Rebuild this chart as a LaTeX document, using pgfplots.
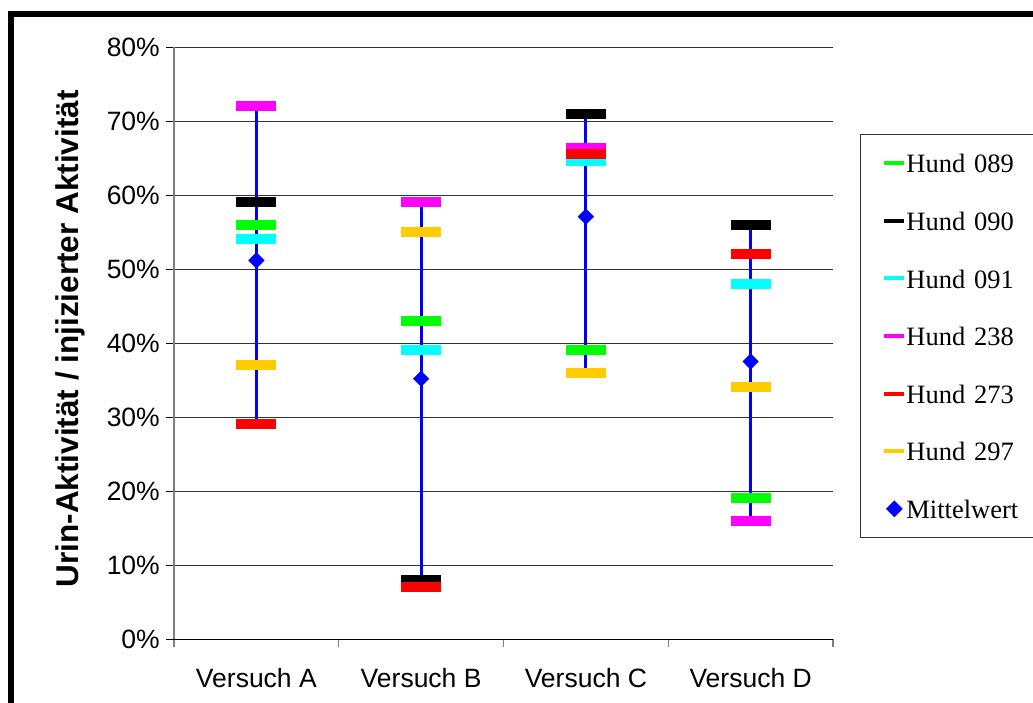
\documentclass[border=0pt]{standalone}
\usepackage{pgfplots}
\pgfplotsset{compat=1.18}
\usepackage{pgfplotstable}
\usepackage{fontspec}
\setmainfont{Liberation Sans}
\newfontfamily\legendfont{Liberation Serif}

\definecolor{hgreen}{RGB}{0,255,0}
\definecolor{hcyan}{RGB}{0,255,255}
\definecolor{hmag}{RGB}{255,0,255}
\definecolor{hred}{RGB}{255,0,0}
\definecolor{hgold}{RGB}{255,204,0}
\definecolor{hblue}{RGB}{0,0,255}

% Urin-Aktivitaet in % der injizierten Aktivitaet, je Hund und Versuch
\pgfplotstableread{
x  h089 h090 h091 h238 h273 h297 mean
0  56   59   54   72   29   37   51.17
1  43   8    39   59   7    55   35.17
2  39   71   64.6 66.4 65.5 36   57.08
3  19   56   48   16   52   34   37.50
}\dogs

\pgfplotsset{
  dogbar/.style={only marks, mark=-, mark size=20pt,
    mark options={line width=10pt, solid, draw=#1},
    legend image code/.code={\draw[#1, line width=4pt] (0pt,0pt) -- (20pt,0pt);}},
}

\begin{document}
\begin{tikzpicture}
\useasboundingbox (0pt,0pt) rectangle (1033pt,702pt);
\fill[white] (0pt,0pt) rectangle (1033pt,702pt);
\draw[line width=5.5pt] (10.8pt,-10pt) -- (10.8pt,687.8pt) -- (1045pt,687.8pt);
\begin{axis}[
  at={(174pt,63pt)}, anchor=south west,
  scale only axis, width=659pt, height=592pt,
  xmin=-0.5, xmax=3.5, ymin=0, ymax=80,
  axis x line*=bottom, axis y line*=left,
  x axis line style={black, line width=1pt, -},
  y axis line style={black!50, line width=1.2pt, -},
  xtick={0,1,2,3},
  xticklabels={Versuch A, Versuch B, Versuch C, Versuch D},
  major x tick style={draw=none},
  minor xtick={-0.5,0.5,1.5,2.5,3.5},
  minor x tick style={black!50, line width=1.2pt},
  ytick={0,10,...,80},
  major y tick style={black, line width=1pt},
  tick align=outside, major tick length=8pt, minor tick length=8pt,
  /pgf/number format/assume math mode=true,
  yticklabel={\pgfmathprintnumber{\tick}\%},
  ticklabel style={font=\fontsize{26.5}{30}\selectfont},
  yticklabel style={anchor=east, inner sep=0pt, xshift=-6pt},
  xticklabel style={anchor=base, inner sep=0pt, yshift=-40pt},
  ymajorgrids, major grid style={black!80, line width=1pt},
  ylabel={Urin-Aktivität / injizierter Aktivität},
  ylabel style={font=\fontsize{31.5}{36}\selectfont\bfseries,
    at={(axis description cs:-0.1449,0.507)}, anchor=base, inner sep=0pt},
  legend style={at={(axis description cs:1.041,0.853)}, anchor=north west,
    draw=black!80, line width=0.8pt, fill=white,
    inner xsep=22pt, inner ysep=0pt, row sep=0pt, column sep=0pt,
    font=\legendfont\fontsize{26.5}{30}\selectfont,
    cells={anchor=west},
    nodes={inner sep=0pt, text height=38.4pt, text depth=19.2pt, text width=140pt}},
  clip=false,
]
% Spannweite je Versuch (Maximum bis Minimum)
\addplot[hblue, line width=3pt, forget plot] coordinates {(0,72) (0,29)};
\addplot[hblue, line width=3pt, forget plot] coordinates {(1,59) (1,7)};
\addplot[hblue, line width=3pt, forget plot] coordinates {(2,71) (2,36)};
\addplot[hblue, line width=3pt, forget plot] coordinates {(3,56) (3,16)};

\addplot[dogbar=hgreen] table[x=x, y=h089] {\dogs};
\addlegendentry{Hund 089}
\addplot[dogbar=black] table[x=x, y=h090] {\dogs};
\addlegendentry{Hund 090}
\addplot[dogbar=hcyan] table[x=x, y=h091] {\dogs};
\addlegendentry{Hund 091}
\addplot[dogbar=hmag] table[x=x, y=h238] {\dogs};
\addlegendentry{Hund 238}
\addplot[dogbar=hred] table[x=x, y=h273] {\dogs};
\addlegendentry{Hund 273}
\addplot[dogbar=hgold] table[x=x, y=h297] {\dogs};
\addlegendentry{Hund 297}
\addplot[only marks, mark=square*, mark size=5.5pt,
  mark options={rotate=45, fill=hblue, draw=hblue},
  legend image code/.code={\draw[mark=square*, mark size=5.5pt,
    mark options={rotate=45, fill=hblue, draw=hblue}] plot coordinates {(10pt,0pt)};}]
  table[x=x, y=mean] {\dogs};
\addlegendentry{Mittelwert}
\end{axis}
\end{tikzpicture}
\end{document}
